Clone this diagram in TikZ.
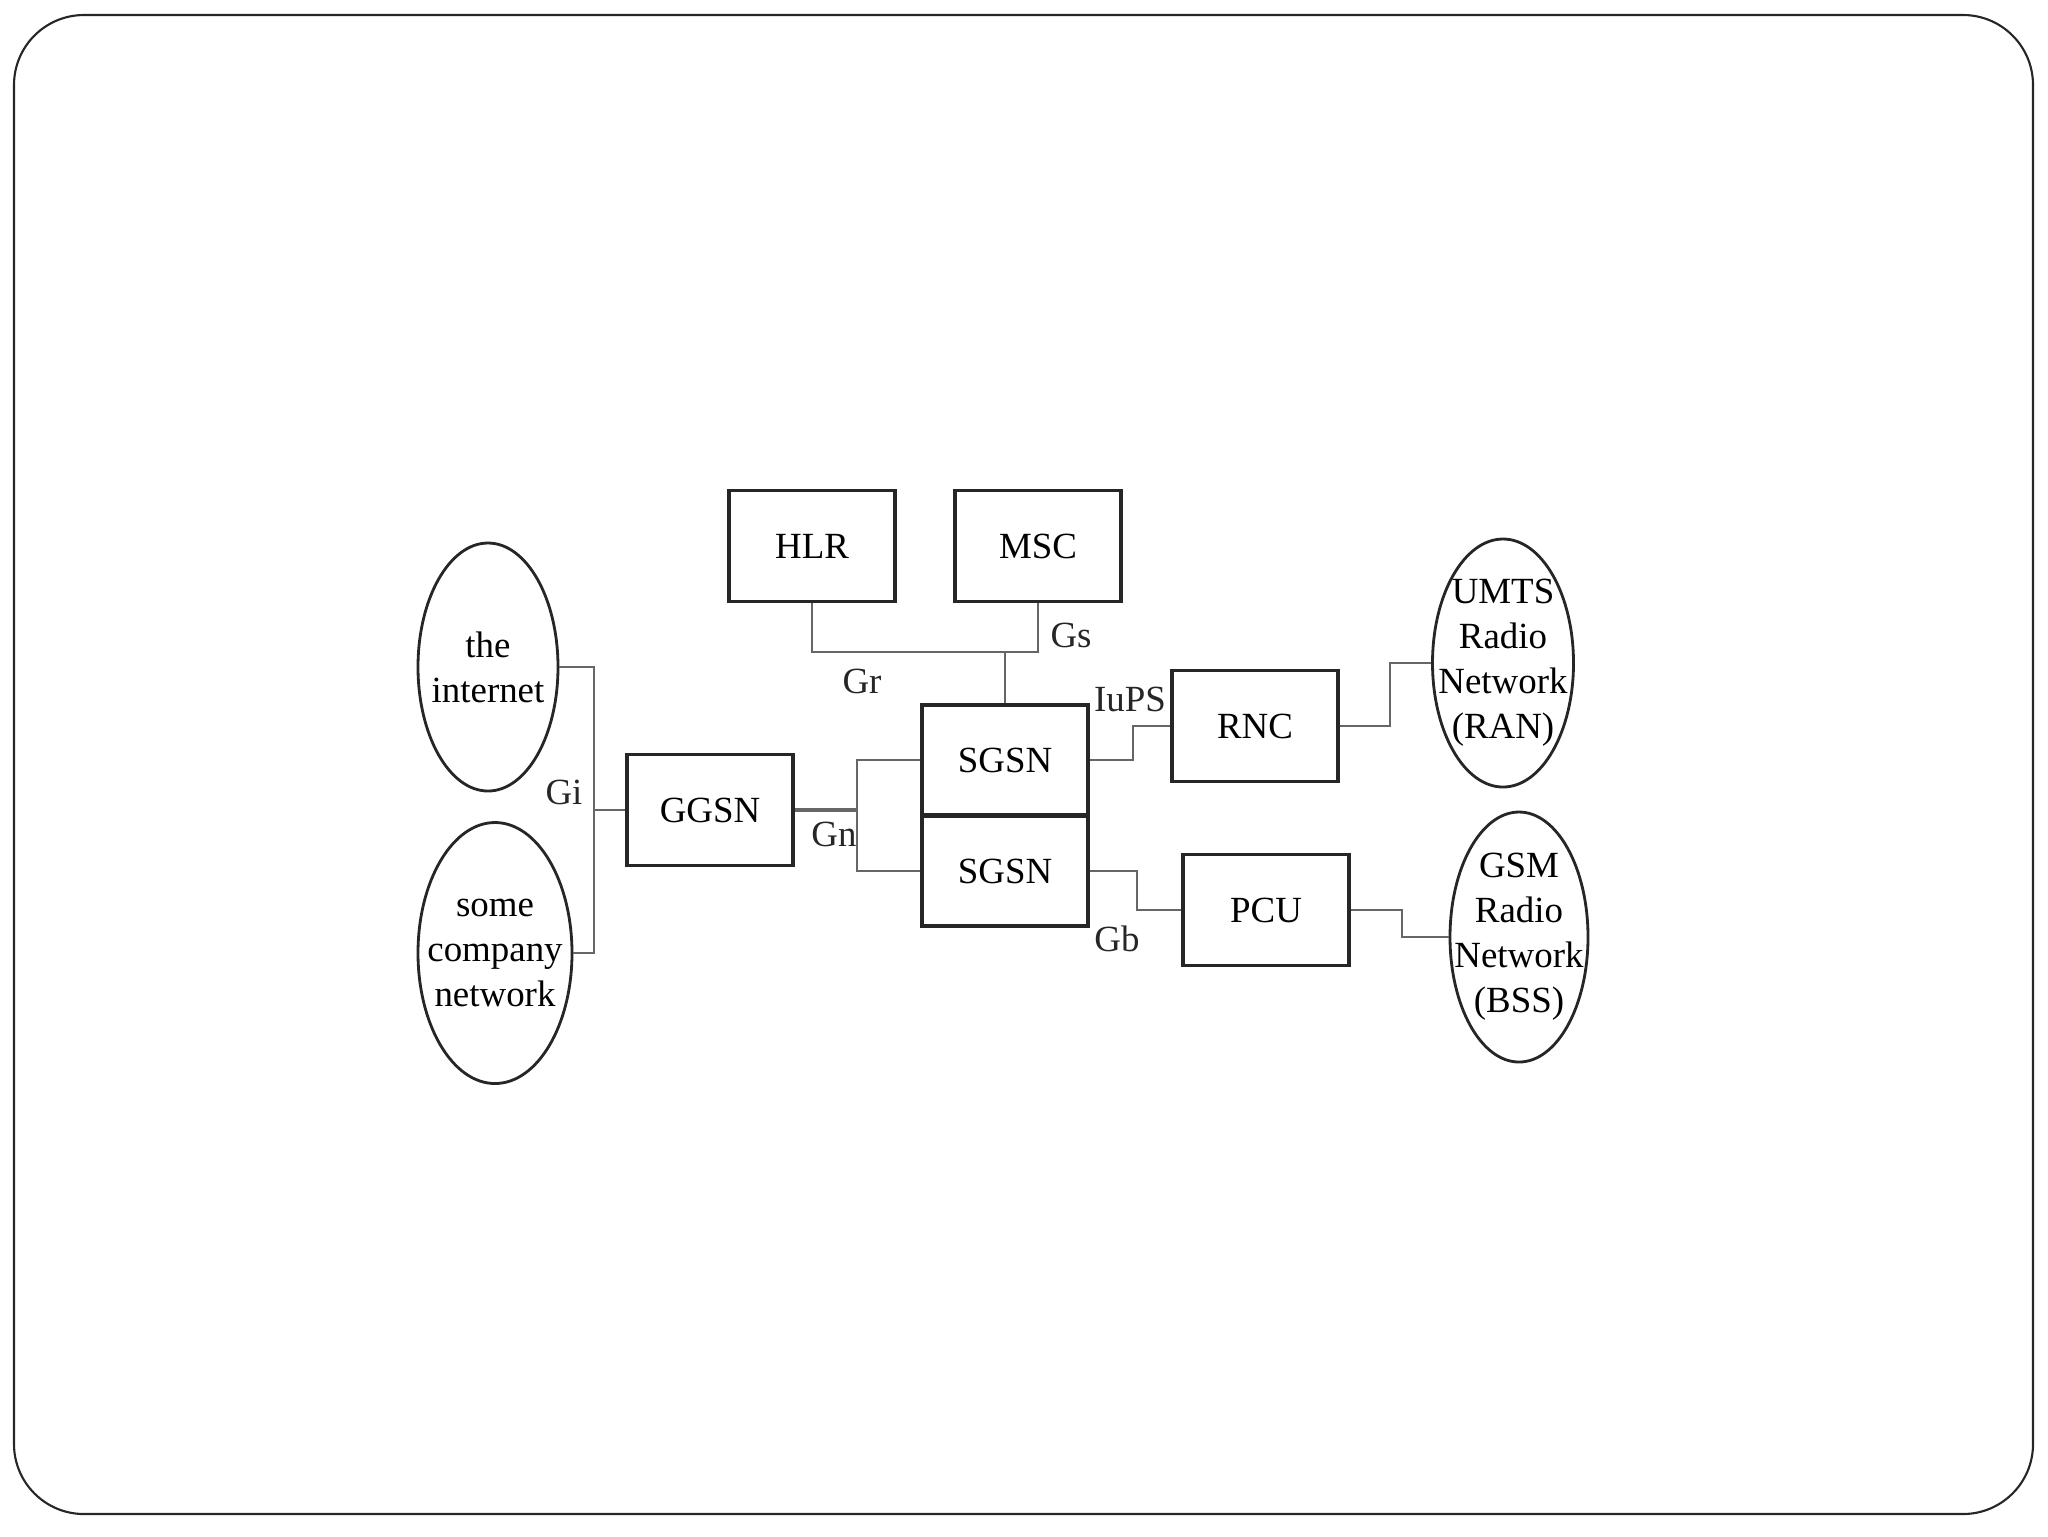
\documentclass[tikz,border=0pt]{standalone}
\usepackage{fontspec}
\setmainfont{Liberation Serif}
\usetikzlibrary{shapes.geometric}

\begin{document}
\begin{tikzpicture}[x=0.1mm,y=-0.1mm,font=\fontsize{10.5}{12.8}\selectfont,
  box/.style={draw=black!85,line width=1.1pt,minimum width=16.6mm,minimum height=11.1mm,inner sep=0pt},
  net/.style={ellipse,draw=black!85,line width=0.8pt,align=center,inner sep=-2mm,minimum width=14mm,minimum height=24.8mm},
  lbl/.style={inner sep=0pt,text=black!85},
  link/.style={draw=black!60,line width=0.6pt}]
\useasboundingbox (0,0) rectangle (2048,1536);
\draw[black!85,line width=0.6pt,rounded corners=7mm] (14,15) rectangle (2033,1514);
% core nodes
\node[box] (hlr) at (812,546) {HLR};
\node[box] (msc) at (1038,546) {MSC};
\node[box] (ggsn) at (710,810) {GGSN};
\node[box,minimum height=11mm] (sgsna) at (1005,760) {SGSN};
\node[box,minimum height=11mm] (sgsnb) at (1005,871) {SGSN};
\node[box] (rnc) at (1255,726) {RNC};
\node[box] (pcu) at (1266,910) {PCU};
% networks
\node[net] (inet) at (488,667) {the\\internet};
\node[net,minimum width=15.4mm,minimum height=26.1mm] (comp) at (495,953) {some\\company\\network};
\node[net,minimum width=14.1mm] (umts) at (1503,663) {UMTS\\Radio\\Network\\(RAN)};
\node[net,minimum width=13.8mm,minimum height=25mm] (gsm) at (1519,937) {GSM\\Radio\\Network\\(BSS)};
% links
\coordinate (jr) at (1005,652);
\coordinate (gi) at (594,810);
\coordinate (gn) at (857,810);
\draw[link] (hlr.south) |- (jr) -| (msc.south);\draw[link] (jr) -- (sgsna.north);
\draw[link] (inet.east) -| (gi) |- (comp.east);\draw[link] (ggsn.west) -- (gi);
\draw[link,line width=1pt] (ggsn.east) -- (gn);
\draw[link] (sgsna.west) -| (gn) |- (sgsnb.west);
\draw[link] (sgsna.east) -- ++(43,0) |- (rnc.west);
\draw[link] (rnc.east) -- ++(50,0) |- (umts.west);
\draw[link] (sgsnb.east) -- ++(47,0) |- (pcu.west);
\draw[link] (pcu.east) -- ++(51,0) |- (gsm.west);
% interface labels
\node[lbl] (gs) at (1071,635) {Gs};
\node[lbl] (gr) at (862,681) {Gr};
\node[lbl] (iups) at (1130,699) {IuPS};
\node[lbl] (gil) at (564,792) {Gi};
\node[lbl] (gnl) at (834,834) {Gn};
\node[lbl] (gb) at (1117,939) {Gb};
\end{tikzpicture}
\end{document}
